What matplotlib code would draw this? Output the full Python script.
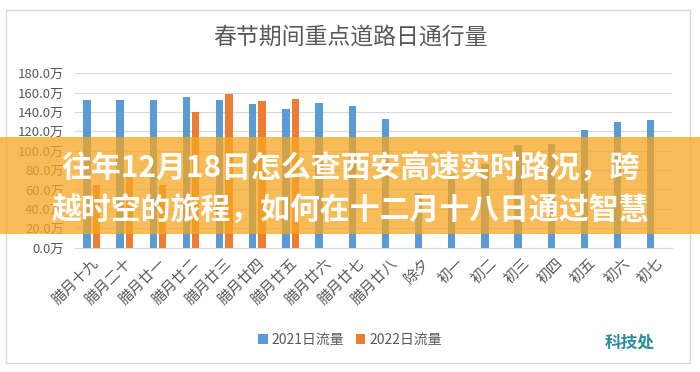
import numpy as np
import matplotlib
matplotlib.use("Agg")
import matplotlib.pyplot as plt
from matplotlib.patches import Rectangle

plt.rcParams['font.family'] = ['Noto Sans CJK SC', 'DejaVu Sans']

categories = ["腊月十九", "腊月二十", "腊月廿一", "腊月廿二", "腊月廿三", "腊月廿四",
              "腊月廿五", "腊月廿六", "腊月廿七", "腊月廿八", "除夕", "初一", "初二",
              "初三", "初四", "初五", "初六", "初七"]
flow_2021 = [152, 152, 152, 155, 152, 148, 143, 149, 146, 133, 56, 76, 86,
             106, 107, 121, 130, 132]
flow_2022 = [64.5, 73, 65, 140, 159, 151, 153]
yticks = [0, 20, 40, 60, 80, 100, 120, 140, 160, 180]
title = "春节期间重点道路日通行量"
series_names = ["2021日流量", "2022日流量"]
banner_lines = ["往年12月18日怎么查西安高速实时路况，跨",
                "越时空的旅程，如何在十二月十八日通过智慧"]

W, H = 700, 372
fig = plt.figure(figsize=(7, 3.72), dpi=100)
fig.patch.set_facecolor("white")

def fx(px):
    return px / W

def fy(py):
    return (H - py) / H

# outer frame
fig.add_artist(Rectangle((fx(6), fy(363)), fx(690) - fx(6), fy(10) - fy(363),
                         transform=fig.transFigure, fill=False,
                         edgecolor="#D9D9D9", linewidth=1.0, zorder=1))

ax = fig.add_axes([fx(75), fy(247.5), fx(672) - fx(75), fy(73.3) - fy(247.5)])
x = np.arange(len(categories))
bw = 0.22
ax.bar(x - 0.14, flow_2021, width=bw, color="#5B9BD5", zorder=3, label=series_names[0])
ax.bar(x[:len(flow_2022)] + 0.14, flow_2022, width=bw, color="#ED7D31", zorder=3,
       label=series_names[1])

ax.set_xlim(-0.5, len(categories) - 0.5)
ax.set_ylim(0, 180)
ax.set_yticks(yticks)
ax.set_yticklabels([f"{v:.1f}万" for v in yticks], fontsize=9.5, color="#595959")
ax.set_xticks(x)
ax.set_xticklabels(categories, rotation=45, ha="right", rotation_mode="anchor",
                   fontsize=10.5, color="#595959")
ax.tick_params(axis="both", length=0)
ax.tick_params(axis="y", pad=8)
ax.tick_params(axis="x", pad=6)
ax.grid(axis="y", color="#D9D9D9", linewidth=0.8, zorder=0)
for s in ["top", "right", "left"]:
    ax.spines[s].set_visible(False)
ax.spines["bottom"].set_color("#D9D9D9")

fig.text(0.5, fy(37), title, ha="center", va="center", fontsize=16.5, color="#595959")

fig.legend(loc="center", bbox_to_anchor=(0.5, fy(340)), ncol=2, frameon=False,
           fontsize=10, handlelength=0.7, handleheight=0.7, handletextpad=0.3,
           columnspacing=0.8, labelcolor="#595959")

fig.text(fx(630), fy(343), "科技处", ha="center", va="center", fontsize=12,
         color="#2B8C9E", fontweight="bold")

# overlay banner
fig.add_artist(Rectangle((0, fy(234)), 1, fy(137) - fy(234), transform=fig.transFigure,
                         facecolor="#F5A623", alpha=0.76, edgecolor="none", zorder=5))
fig.text(0.5, fy(168), banner_lines[0], ha="center", va="center", fontsize=21.5,
         color="white", fontweight="bold", zorder=6)
fig.text(0.5, fy(210), banner_lines[1], ha="center", va="center", fontsize=21.5,
         color="white", fontweight="bold", zorder=6)

fig.savefig("out.png", dpi=100)
